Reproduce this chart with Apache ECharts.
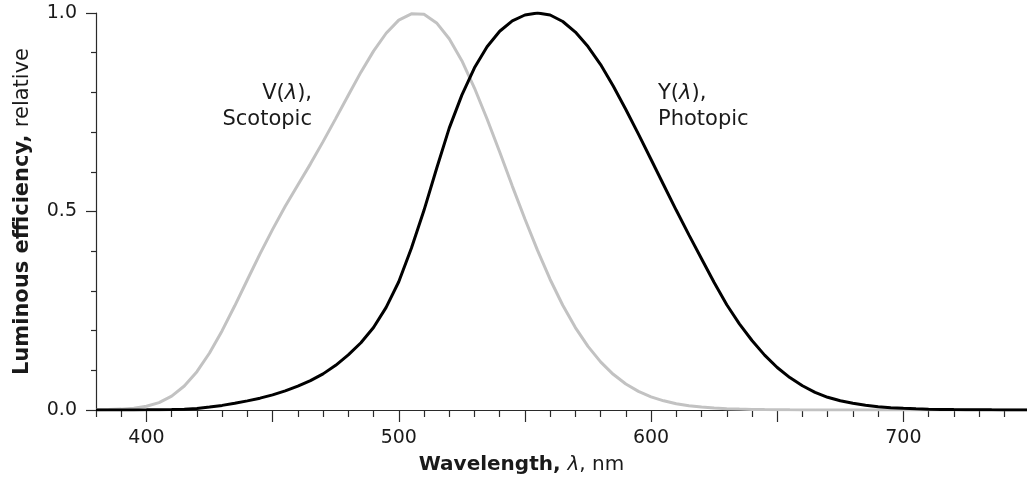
<!DOCTYPE html>
<html>
<head>
<meta charset="utf-8">
<script src="https://cdn.jsdelivr.net/npm/echarts@6/dist/echarts.min.js"></script>
<style>html,body{margin:0;padding:0;background:#fff}#c{width:1027px;height:480px}</style>
</head>
<body>
<div id="c"></div>
<script>
const wavelengths = [380,385,390,395,400,405,410,415,420,425,430,435,440,445,450,455,460,465,470,475,480,485,490,495,500,505,510,515,520,525,530,535,540,545,550,555,560,565,570,575,580,585,590,595,600,605,610,615,620,625,630,635,640,645,650,655,660,665,670,675,680,685,690,695,700,705,710,715,720,725,730,735,740,745,750];
const photopic = [0.000039,0.000064,0.00012,0.000217,0.000396,0.00064,0.00121,0.00218,0.004,0.0073,0.0116,0.01684,0.023,0.0298,0.038,0.048,0.06,0.0739,0.09098,0.1126,0.13902,0.1693,0.208,0.2586,0.323,0.4073,0.503,0.6082,0.71,0.7932,0.862,0.91485,0.954,0.9803,0.99495,1.0,0.995,0.9786,0.952,0.9154,0.87,0.8163,0.757,0.6949,0.631,0.5668,0.503,0.4412,0.381,0.321,0.265,0.217,0.175,0.1382,0.107,0.0816,0.061,0.04458,0.032,0.0232,0.017,0.01192,0.00821,0.005723,0.004102,0.002929,0.002091,0.001484,0.001047,0.00074,0.00052,0.000361,0.000249,0.000172,0.00012];
const scotopic = [0.000589,0.001108,0.002209,0.00453,0.00929,0.01852,0.03484,0.0604,0.0966,0.1436,0.1998,0.2625,0.3281,0.3931,0.455,0.513,0.567,0.62,0.676,0.734,0.793,0.851,0.904,0.949,0.982,0.998,0.997,0.975,0.935,0.88,0.811,0.733,0.65,0.564,0.481,0.402,0.3288,0.2639,0.2076,0.1602,0.1212,0.0899,0.0655,0.0469,0.03315,0.0231,0.01593,0.01088,0.00737,0.00497,0.003335,0.002235,0.001497,0.001005,0.000677,0.000459,0.000313,0.000215,0.000148,0.000103,0.0000715,0.00005,0.0000353,0.000025,0.0000178,0.000012,0.000008,0.000005,0.000003,0.000002,0.000001,0.000001,0,0,0];
const xLabelValues = [400,500,600,700];
const xMajorTicks = [400,450,500,550,600,650,700];
const xMinorTicks = [380,390,410,420,430,440,460,470,480,490,510,520,530,540,560,570,580,590,610,620,630,640,660,670,680,690,710,720,730,740];
const scotopicLabel = ['V(', 'λ', '),', 'Scotopic'];
const photopicLabel = ['Y(', 'λ', '),', 'Photopic'];

const FONT = 'DejaVu Sans';
const TXT = '#1a1a1a';
const AX = '#2a2a2a';

const chart = echarts.init(document.getElementById('c'), null, {renderer: 'canvas'});
const pairs = (ys) => wavelengths.map((w, i) => [w, ys[i]]);

chart.setOption({
  animation: false,
  backgroundColor: '#fff',
  grid: {left: 96, top: 13, bottom: 68, right: 0, containLabel: false},
  xAxis: [{
    type: 'value', min: 380, max: 749,
    axisLine: {show: true, lineStyle: {color: AX, width: 1.2}},
    axisTick: {show: true, length: 12, customValues: xMajorTicks, lineStyle: {color: AX, width: 1.2}},
    axisLabel: {customValues: xLabelValues, margin: 19, fontFamily: FONT, fontSize: 19, color: TXT},
    splitLine: {show: false},
    name: '{b|Wavelength, }{i|λ}{r|, nm}',
    nameLocation: 'middle', nameGap: 45,
    nameTextStyle: {padding: [0, 80, 0, 0], rich: {
      b: {fontFamily: FONT, fontSize: 20, fontWeight: 'bold', color: TXT},
      i: {fontFamily: FONT, fontSize: 20, fontStyle: 'italic', color: TXT},
      r: {fontFamily: FONT, fontSize: 20, color: TXT}
    }}
  }, {
    type: 'value', min: 380, max: 749, position: 'bottom',
    axisLine: {show: false},
    axisTick: {show: true, length: 7, customValues: xMinorTicks, lineStyle: {color: AX, width: 1.2}},
    axisLabel: {show: false},
    splitLine: {show: false}
  }],
  yAxis: {
    type: 'value', min: 0, max: 1, interval: 0.5,
    axisLine: {show: true, lineStyle: {color: AX, width: 1.2}},
    axisTick: {show: true, length: 10, lineStyle: {color: AX, width: 1.2}},
    minorTick: {show: true, splitNumber: 5, length: 5, lineStyle: {color: AX, width: 1.2}},
    axisLabel: {margin: 19, fontFamily: FONT, fontSize: 19, color: TXT, formatter: v => v.toFixed(1)},
    splitLine: {show: false},
    name: '{b|Luminous efficiency, }{r|relative}',
    nameLocation: 'middle', nameGap: 63, nameRotate: 90,
    nameTextStyle: {rich: {
      b: {fontFamily: FONT, fontSize: 21, fontWeight: 'bold', color: TXT},
      r: {fontFamily: FONT, fontSize: 21, color: TXT}
    }}
  },
  graphic: [{
    type: 'text', x: 312, y: 107,
    style: {
      text: '{r|' + scotopicLabel[0] + '}{i|' + scotopicLabel[1] + '}{r|' + scotopicLabel[2] + '}\n{r|' + scotopicLabel[3] + '}',
      align: 'right', verticalAlign: 'middle',
      rich: {
        r: {fontFamily: FONT, fontSize: 21, lineHeight: 26, fill: TXT},
        i: {fontFamily: FONT, fontSize: 21, lineHeight: 26, fontStyle: 'italic', fill: TXT}
      }
    }
  }, {
    type: 'text', x: 658, y: 107,
    style: {
      text: '{r|' + photopicLabel[0] + '}{i|' + photopicLabel[1] + '}{r|' + photopicLabel[2] + '}\n{r|' + photopicLabel[3] + '}',
      align: 'left', verticalAlign: 'middle',
      rich: {
        r: {fontFamily: FONT, fontSize: 21, lineHeight: 26, fill: TXT},
        i: {fontFamily: FONT, fontSize: 21, lineHeight: 26, fontStyle: 'italic', fill: TXT}
      }
    }
  }],
  series: [{
    name: 'Scotopic', type: 'line', data: pairs(scotopic), showSymbol: false, symbol: 'none',
    lineStyle: {color: '#c2c2c2', width: 3}, z: 2
  }, {
    name: 'Photopic', type: 'line', data: pairs(photopic), showSymbol: false, symbol: 'none',
    lineStyle: {color: '#000', width: 3}, z: 3
  }]
});
</script>
</body>
</html>
